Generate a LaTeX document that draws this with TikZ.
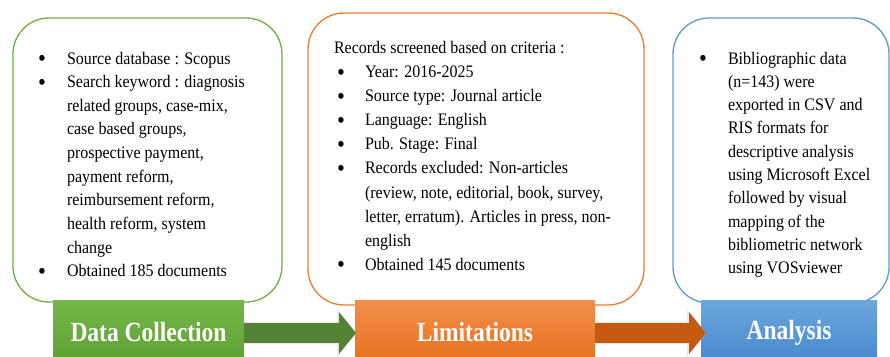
\documentclass[tikz,border=0pt]{standalone}
\usepackage{fontspec}
\setmainfont{Liberation Serif}
\usepackage{graphicx}
\usetikzlibrary{arrows.meta}
\definecolor{gborder}{HTML}{70AD47}
\definecolor{oborder}{HTML}{ED7D31}
\definecolor{bborder}{HTML}{5B9BD5}
\definecolor{gtop}{HTML}{76B74A}
\definecolor{gbot}{HTML}{5E9F33}
\definecolor{otop}{HTML}{F38F4C}
\definecolor{obot}{HTML}{E56F1C}
\definecolor{btop}{HTML}{6CA7DE}
\definecolor{bbot}{HTML}{4687CB}
\definecolor{garrowc}{HTML}{548235}
\definecolor{oarrowc}{HTML}{C55A11}
\newlength\bind
\newcommand{\bl}[1][0pt]{\makebox[\bind][l]{\hspace*{#1}\raisebox{-2.2pt}{\scalebox{1.4}{\textbullet}}}}
\newcommand{\cl}{\hspace*{\bind}}
\newcommand{\bodytext}[3]{\scalebox{1}[1.1]{\parbox[t]{340pt}{\setlength\bind{#2}\fontsize{16}{#1}\selectfont\raggedright #3}}}
\newcommand{\labtext}[1]{\raisebox{3pt}{\scalebox{1}[1.18]{\fontsize{23.5}{28}\selectfont\bfseries #1}}}
\begin{document}
\begin{tikzpicture}[x=1pt,y=-1pt,
  roundbox/.style={rectangle, rounded corners=36pt, line width=1.3pt, fill=white, inner sep=0pt, outer sep=0pt},
  bodynode/.style={anchor=base west, inner sep=0pt, outer sep=0pt},
  labbox/.style={rectangle, inner sep=0pt, outer sep=0pt, minimum height=66pt, text=white},
  blockarrow/.style={line width=20pt, -{Triangle[length=17pt,width=41pt]},
    preaction={draw=white!82!gray, line width=22.5pt, -{Triangle[length=19pt,width=46pt]}}}
]
\useasboundingbox (0,0) rectangle (890,356);
\clip (0,0) rectangle (890,356);
% rounded boxes
\node[roundbox, draw=gborder, minimum width=269pt, minimum height=284pt] (b1) at (147.5,160) {};
\node[roundbox, draw=oborder, minimum width=336pt, minimum height=292pt] (b2) at (476,159) {};
\node[roundbox, draw=bborder, minimum width=216pt, minimum height=285pt] (b3) at (781,160.5) {};
% texts
\node[bodynode] (t1) at (38,64) {\bodytext{21.5}{29pt}{%
\bl Source database : Scopus\\
\bl Search keyword : diagnosis\\
\cl related groups, case-mix,\\
\cl case based groups,\\
\cl prospective payment,\\
\cl payment reform,\\
\cl reimbursement reform,\\
\cl health reform, system\\
\cl change\\
\bl Obtained 185 documents}};
\node[bodynode] (t2) at (334,53.5) {\bodytext{21.9}{31pt}{%
Records screened based on criteria :\\
\bl[3pt]Year: 2016-2025\\
\bl[3pt]Source type: Journal article\\
\bl[3pt]Language: English\\
\bl[3pt]Pub. Stage: Final\\
\bl[3pt]Records excluded: Non-articles\\
\cl (review, note, editorial, book, survey,\\
\cl letter, erratum). Articles in press, non-\\
\cl english\\
\bl[3pt]Obtained 145 documents}};
\node[bodynode] (t3) at (699,64) {\bodytext{21.2}{29pt}{%
\bl Bibliographic data\\
\cl (n=143) were\\
\cl exported in CSV and\\
\cl RIS formats for\\
\cl descriptive analysis\\
\cl using Microsoft Excel\\
\cl followed by visual\\
\cl mapping of the\\
\cl bibliometric network\\
\cl using VOSviewer}};
% labels
\node[labbox, top color=gtop, bottom color=gbot, minimum width=191pt] (l1) at (148.5,333) {\labtext{Data Collection}};
\node[labbox, top color=otop, bottom color=obot, minimum width=240pt] (l2) at (475,333) {\labtext{Limitations}};
\node[labbox, top color=btop, bottom color=bbot, minimum width=176pt] (l3) at (789,333) {\labtext{Analysis}};
% arrows
\draw[blockarrow, draw=garrowc] (l1.east) -- ([xshift=1pt]l2.west);
\draw[blockarrow, draw=oarrowc] (l2.east) -- ([xshift=5pt]l3.west);
\end{tikzpicture}
\end{document}
